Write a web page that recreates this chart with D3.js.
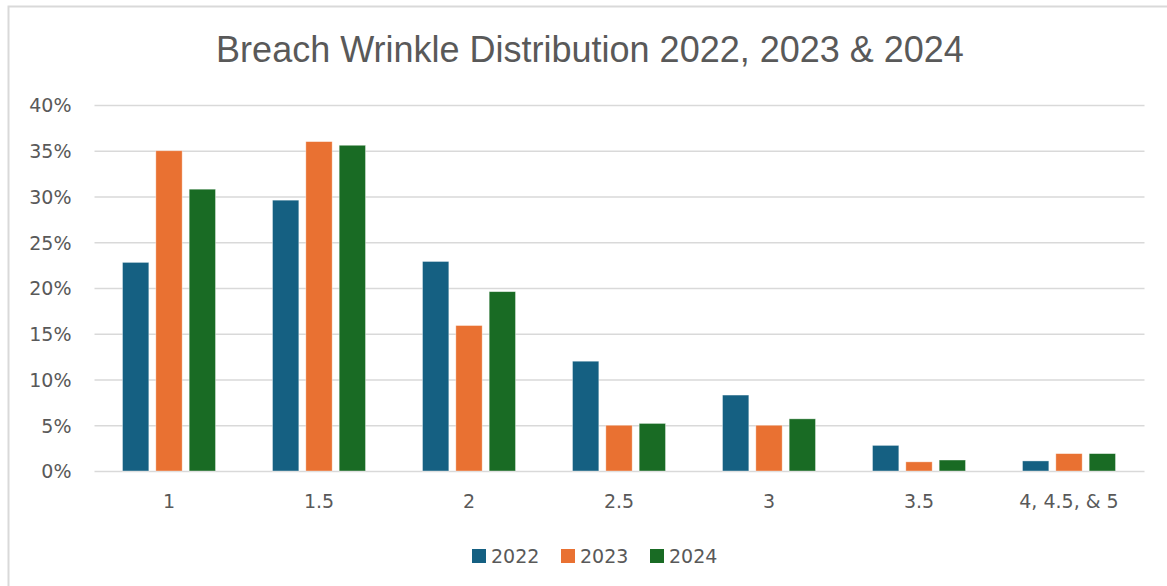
<!DOCTYPE html>
<html>
<head>
<meta charset="utf-8">
<script src="https://cdn.jsdelivr.net/npm/d3@7"></script>
<style>
    html, body { margin: 0; padding: 0; background: #fff; }
    svg { display: block; font-family: "DejaVu Sans", sans-serif; }
</style>
</head>
<body>
<script>
'use strict';

// chart data
const categories = ["1", "1.5", "2", "2.5", "3", "3.5", "4, 4.5, & 5"];
const years = ["2022", "2023", "2024"];
const values2022 = [22.8, 29.6, 22.9, 12.0, 8.3, 2.8, 1.1];
const values2023 = [35.0, 36.0, 15.9, 5.0, 5.0, 1.0, 1.9];
const values2024 = [30.8, 35.6, 19.6, 5.2, 5.7, 1.2, 1.9];
const yTicks = [0, 5, 10, 15, 20, 25, 30, 35, 40];
const title = "Breach Wrinkle Distribution 2022, 2023 & 2024";

const colors = d3.scaleOrdinal()
    .domain(years)
    .range(["#156082", "#E97132", "#196B24"]);

const width = 1167, height = 586;
const labelSize = '19px';

const svg = d3.select('body')
    .append('svg')
    .attr('width', width)
    .attr('height', height);

// chart frame (only left and top edges are visible)
svg.append('rect')
    .attr('x', 8.5)
    .attr('y', 6.5)
    .attr('width', 1200)
    .attr('height', 700)
    .attr('fill', '#fff')
    .attr('stroke', '#d9d9d9')
    .attr('stroke-width', 2);

// scales
const x0 = d3.scaleBand()
    .domain(categories)
    .range([94, 1144])
    .paddingInner(0.38)
    .paddingOuter(0.19);

const x1 = d3.scaleBand()
    .domain(years)
    .range([0, x0.bandwidth()])
    .paddingInner(0.21);

const y = d3.scaleLinear()
    .domain([0, 40])
    .range([471, 105]);

// gridlines + y labels
const yAxis = d3.axisLeft(y)
    .tickValues(yTicks)
    .tickSize(-1050)
    .tickPadding(23)
    .tickFormat(d => d + '%');

const gy = svg.append('g')
    .attr('transform', 'translate(94.5, 0)')
    .call(yAxis);
gy.select('.domain').remove();
gy.selectAll('.tick line')
    .attr('stroke', '#d9d9d9')
    .attr('stroke-width', 1.5);
gy.selectAll('.tick text')
    .attr('fill', '#595959')
    .style('font-family', '"DejaVu Sans", sans-serif')
    .style('font-size', labelSize)
    .attr('dy', '0.36em');

// bars
const rows = categories.map((c, i) => ({
    cat: c,
    vals: [
        { year: "2022", v: values2022[i] },
        { year: "2023", v: values2023[i] },
        { year: "2024", v: values2024[i] }
    ]
}));

const groups = svg.selectAll('.group')
    .data(rows)
    .enter()
    .append('g')
    .attr('class', 'group')
    .attr('transform', d => 'translate(' + x0(d.cat) + ',0)');

groups.selectAll('rect')
    .data(d => d.vals)
    .enter()
    .append('rect')
    .attr('x', d => x1(d.year))
    .attr('y', d => y(d.v))
    .attr('width', x1.bandwidth())
    .attr('height', d => y(0) - y(d.v))
    .attr('fill', d => colors(d.year))
    .attr('stroke', '#ffffff')
    .attr('stroke-opacity', 0.5)
    .attr('stroke-width', 0.75);

// x labels
svg.selectAll('.xlabel')
    .data(categories)
    .enter()
    .append('text')
    .attr('class', 'xlabel')
    .attr('x', d => x0(d) + x0.bandwidth() / 2)
    .attr('y', 508)
    .attr('text-anchor', 'middle')
    .attr('fill', '#595959')
    .style('font-size', labelSize)
    .text(d => d);

// title, fit to width seen in the reference
const t = svg.append('text')
    .attr('x', 590)
    .attr('y', 62)
    .attr('text-anchor', 'middle')
    .attr('fill', '#595959')
    .style('font-family', '"Liberation Sans", Arial, sans-serif')
    .style('font-size', '30px')
    .text(title);
const tw = t.node().getComputedTextLength();
t.style('font-size', (30 * 748 / tw) + 'px');

// legend
const legendX = [472, 561, 650];
const legend = svg.selectAll('.legend')
    .data(years)
    .enter()
    .append('g')
    .attr('class', 'legend')
    .attr('transform', (d, i) => 'translate(' + legendX[i] + ',549)');

legend.append('rect')
    .attr('width', 14)
    .attr('height', 14)
    .attr('fill', d => colors(d));

legend.append('text')
    .attr('x', 19)
    .attr('y', 14)
    .attr('fill', '#595959')
    .style('font-size', labelSize)
    .text(d => d);
</script>
</body>
</html>
